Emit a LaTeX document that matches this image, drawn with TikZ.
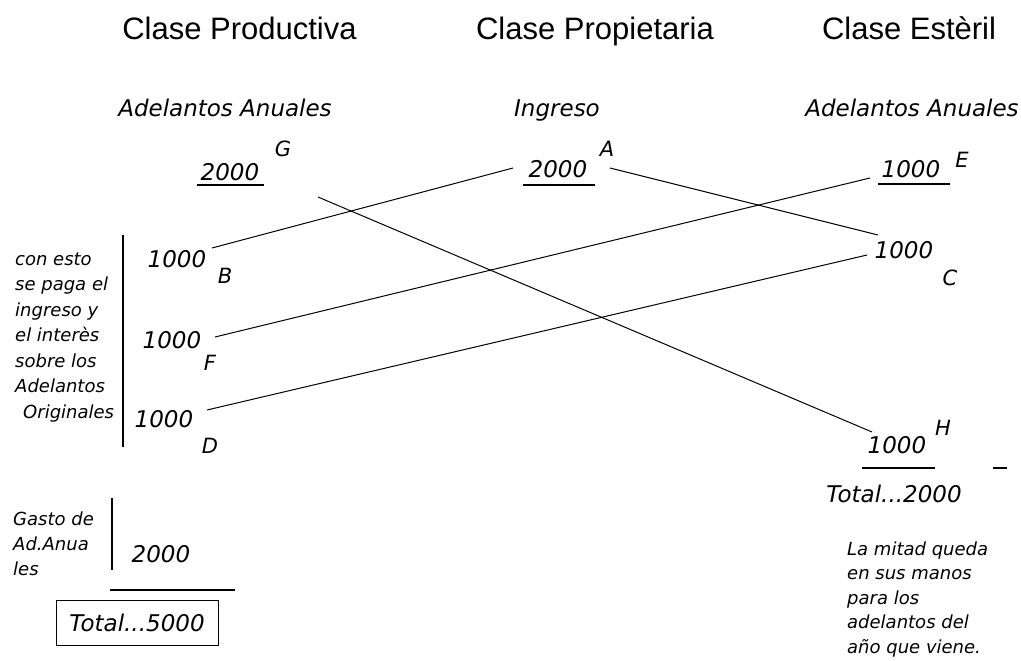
\documentclass[tikz,border=0pt]{standalone}
\usepackage{fontspec}
\setmainfont{Liberation Sans}
\newfontfamily\itf{DejaVu Sans}
\begin{document}
\begin{tikzpicture}[x=1pt,y=-1pt,
  title/.style={font=\fontsize{31}{31}\selectfont, inner sep=0pt, anchor=base},
  sub/.style={font=\itf\itshape\fontsize{23}{23}\selectfont, inner sep=0pt, anchor=base},
  num/.style={font=\itf\itshape\fontsize{23}{23}\selectfont, inner sep=0pt, anchor=base},
  lett/.style={font=\itf\itshape\fontsize{21}{21}\selectfont, inner sep=0pt, anchor=base},
  note/.style={font=\itf\itshape\fontsize{18}{25.5}\selectfont, inner sep=0pt, anchor=base west, align=left},
  flow/.style={draw=black, line width=1pt},
  rule/.style={draw=black, line width=1.2pt}]
\useasboundingbox (0,0) rectangle (1021,661);
\fill[white] (0,0) rectangle (1021,661);

% titles
\node[title] (t1) at (239.5,40) {Clase Productiva};
\node[title] (t2) at (595,40) {Clase Propietaria};
\node[title] (t3) at (909,40) {Clase Estèril};

\node[sub] (s1) at (225,117) {Adelantos Anuales};
\node[sub] (s2) at (557,117) {Ingreso};
\node[sub] (s3) at (912,117) {Adelantos Anuales};

% top amounts
\node[num] (nG) at (230,180) {2000};
\node[lett] (lG) at (283,157) {G};
\draw[rule] (197,185) -- (264,185);

\node[num] (nA) at (558,177) {2000};
\node[lett] (lA) at (607,157) {A};
\draw[rule] (523,185) -- (595,185);

\node[num] (nE) at (911,177) {1000};
\node[lett] (lE) at (962,167) {E};
\draw[rule] (878,184) -- (950,184);

% productive class
\node[num] (nB) at (177,267) {1000};
\node[lett] (lB) at (225,283) {B};
\node[num] (nF) at (172,348) {1000};
\node[lett] (lF) at (210,370) {F};
\node[num] (nD) at (164,427) {1000};
\node[lett] (lD) at (210,453) {D};

\draw[rule] (123,235) -- (123,447);
% anchor is the baseline of the last line
\node[note] (txt1) at (15,418) {con esto\\se paga el\\ingreso y\\el interès\\sobre los\\Adelantos\\\hspace*{8pt}Originales};

% sterile class
\node[num] (nC) at (904,258) {1000};
\node[lett] (lC) at (950,285) {C};
\node[num] (nH) at (897,453) {1000};
\node[lett] (lH) at (943,435) {H};
\draw[rule] (862,468) -- (935,468);
\draw[rule] (993,468) -- (1007,468);
\node[num] (tot2) at (894,502) {Total...2000};
\node[note, font=\itf\itshape\fontsize{18}{24.5}\selectfont] (txt2) at (847,653) {La mitad queda\\en sus manos\\para los\\adelantos del\\año que viene.};

% bottom left
\node[note, font=\itf\itshape\fontsize{18}{25}\selectfont] (txt3) at (13,575) {Gasto de\\Ad.Anua\\les};
\draw[rule] (112,498) -- (112,570);
\node[num] (n2000) at (161,562) {2000};
\draw[rule] (110,590) -- (235,590);
\node[num, draw=black, line width=1pt, anchor=center, minimum width=162pt, minimum height=45pt] (tot1) at (137,622.5) {Total...5000};

% connector end points
\coordinate (Bs) at (212,248);
\coordinate (Ae) at (513,168);
\coordinate (Gs) at (318,197);
\coordinate (He) at (872,432);
\coordinate (As) at (610,168);
\coordinate (Ce1) at (878,235);
\coordinate (Fs) at (215,337);
\coordinate (Ee) at (870,178);
\coordinate (Ds) at (207,410);
\coordinate (Ce2) at (867,255);

\draw[flow] (Bs) -- (Ae);
\draw[flow] (Gs) -- (He);
\draw[flow] (As) -- (Ce1);
\draw[flow] (Fs) -- (Ee);
\draw[flow] (Ds) -- (Ce2);
\end{tikzpicture}
\end{document}
